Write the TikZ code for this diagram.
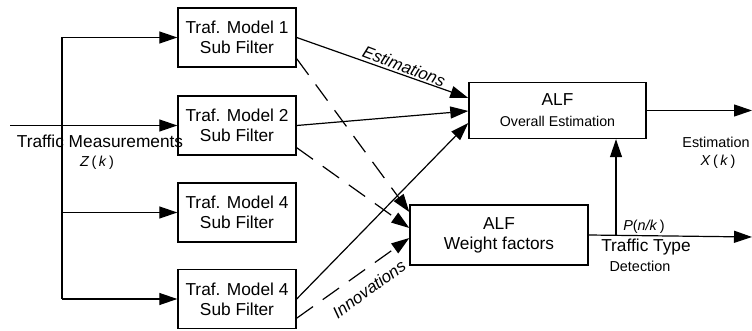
\documentclass[tikz,border=0pt]{standalone}
\usepackage{fontspec}
\setmainfont{Liberation Sans}
\usetikzlibrary{arrows.meta,calc}

\tikzset{
  big/.style={font=\fontsize{17.3}{20}\selectfont},
  small/.style={font=\fontsize{14.4}{17}\selectfont},
  box/.style={draw, line width=1.4pt, inner sep=0pt, align=center, big},
  subbox/.style={box, minimum width=118pt, minimum height=59pt},
  alfbox/.style={box, minimum width=177pt, minimum height=56pt},
  wire/.style={line width=1.2pt},
  link/.style={wire, -{Triangle[length=18pt,width=12pt]}},
  dlink/.style={link, dash pattern=on 20pt off 12pt},
  lbl/.style={inner sep=0pt, big},
  slbl/.style={inner sep=0pt, small},
  flowlbl/.style={inner sep=0pt, font=\fontsize{16.8}{18}\selectfont\itshape},
}

\begin{document}
\begin{tikzpicture}[x=1pt,y=-1pt]
\useasboundingbox (0,0) rectangle (752,331);

% sub filters
\node[subbox] (s1) at (237,37.5)  {Traf. Model 1\\Sub Filter};
\node[subbox] (s2) at (237,125.5) {Traf. Model 2\\Sub Filter};
\node[subbox] (s3) at (237,212.5) {Traf. Model 4\\Sub Filter};
\node[subbox] (s4) at (237,299)   {Traf. Model 4\\Sub Filter};

% ALF blocks
\node[alfbox] (o) at (557.5,110.5) {ALF\\[1pt]{\fontsize{14.2}{17}\selectfont Overall Estimation\hspace{14pt}}};
\node[alfbox, minimum width=178pt, minimum height=60pt] (w) at (499,235) {ALF\\Weight factors};

% distribution of the measurements
\coordinate (src) at (10,125.5);
\coordinate (spine) at (62,0);
\draw[wire] (spine |- s1.west) -- (spine |- s4.west);
\draw[link] (spine |- s1.west) -- (s1.west);
\draw[link] (src) -- (s2.west);
\draw[link] (spine |- s3.west) -- (s3.west);
\draw[link] (spine |- s4.west) -- (s4.west);

% estimations
\draw[link] (s1.east) -- ($(o.west)+(0,-12.5)$);
\draw[link] (s2.east) -- ($(o.west)+(0,0.5)$);
\draw[link] (s4.east) -- ($(o.west)+(0,12.5)$);

% innovations
\draw[dlink] ($(s1.south east)+(0,-9)$) -- ($(w.west)+(0,-23)$);
\draw[dlink] ($(s2.south east)+(0,-8)$) -- ($(w.west)+(0,-7)$);
\draw[dlink] ($(s4.south east)+(0,-11)$) -- ($(w.west)+(0,3)$);

% outputs
\coordinate (oout) at (752,110.5);
\coordinate (wout) at (752,237);
\coordinate (tap) at (616,235.5);
\draw[link] (o.east) -- (oout);
\draw[link] (w.east) -- (wout);
\draw[link] (tap) -- (tap |- o.south);

% labels
\node[lbl] (tm) at (100,141) {Traffic Measurements};
\node[slbl] (zk) at (97,163) {\textit{Z}\,(\,\textit{k}\,)};
\node[slbl] (est) at (716,142) {Estimation};
\node[slbl] (xk) at (718,162) {\textit{X}\,(\,\textit{k}\,)};
\node[slbl] (pnk) at (644,227) {\textit{P}(\textit{n/k}\,)};
\node[lbl] (tt) at (646,247) {Traffic Type};
\node[slbl] (det) at (640,266) {Detection};
\node[flowlbl, rotate=-21] (el) at (404,66) {Estimations};
\node[flowlbl, rotate=36] (il) at (369,289) {Innovations};
\end{tikzpicture}
\end{document}
